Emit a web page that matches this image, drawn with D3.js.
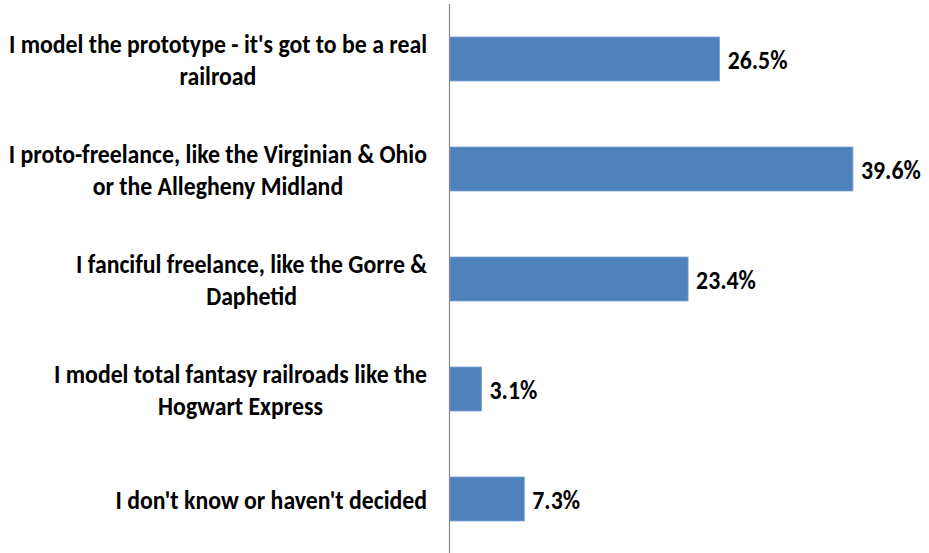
<!DOCTYPE html>
<html><head><meta charset="utf-8">
<script src="https://cdn.jsdelivr.net/npm/d3@7"></script>
<style>body{margin:0;background:#fff;} svg{display:block;} text{font-family:Carlito,Calibri,"Liberation Sans",sans-serif;font-weight:bold;fill:#000;}</style>
</head><body><svg id="c" width="929" height="553"></svg>
<script>
const categories = [
  ["I model the prototype - it's got to be a real", "railroad"],
  ["I proto-freelance, like the Virginian & Ohio", "or the Allegheny Midland"],
  ["I fanciful freelance, like the Gorre &", "Daphetid"],
  ["I model total fantasy railroads like the", "Hogwart Express"],
  ["I don't know or haven't decided"]
];
const values = [26.5, 39.6, 23.4, 3.1, 7.3];
const valueLabels = ["26.5%", "39.6%", "23.4%", "3.1%", "7.3%"];

const svg = d3.select("#c");
const ids = d3.range(values.length);
const y = d3.scaleBand().domain(ids).range([4, 554]).paddingInner(0.6).paddingOuter(0.3);
const x = d3.scaleLinear().domain([0, 40]).range([450, 857]);
const fs = 23.8, sy = 1.12, lh = 32.6, right = 427;

svg.selectAll("rect.bar").data(ids).join("rect")
  .attr("class","bar")
  .attr("x", x(0)).attr("y", d => y(d))
  .attr("width", d => x(values[d]) - x(0)).attr("height", y.bandwidth())
  .attr("fill", "#4F81BD").attr("stroke", "#7EA3D1").attr("stroke-width", 0.8);

svg.append("line").attr("x1", x(0)-0.5).attr("x2", x(0)-0.5).attr("y1", 4).attr("y2", 553)
  .attr("stroke", "#868686").attr("stroke-width", 1.2);

svg.selectAll("g.val").data(ids).join("g")
  .attr("class","val")
  .attr("transform", d => `translate(${x(values[d]) + 8},${y(d) + y.bandwidth()/2 + 1}) scale(1,${sy})`)
  .append("text").attr("dy", "0.33em").style("font-size", fs + "px")
  .text(d => valueLabels[d]);

ids.forEach(i => {
  const lines = categories[i];
  const cy = y(i) + y.bandwidth()/2 + 1;
  const gs = lines.map((l, k) => svg.append("g")
     .attr("transform", `translate(0,${cy + (k - (lines.length-1)/2) * lh}) scale(1,${sy})`));
  const ts = lines.map((l, k) => gs[k].append("text").style("font-size", fs + "px")
     .attr("text-anchor", "middle").attr("dy", "0.33em").text(l));
  const w = d3.max(ts, t => t.node().getComputedTextLength());
  ts.forEach(t => t.attr("x", right - w/2));
});
</script></body></html>
